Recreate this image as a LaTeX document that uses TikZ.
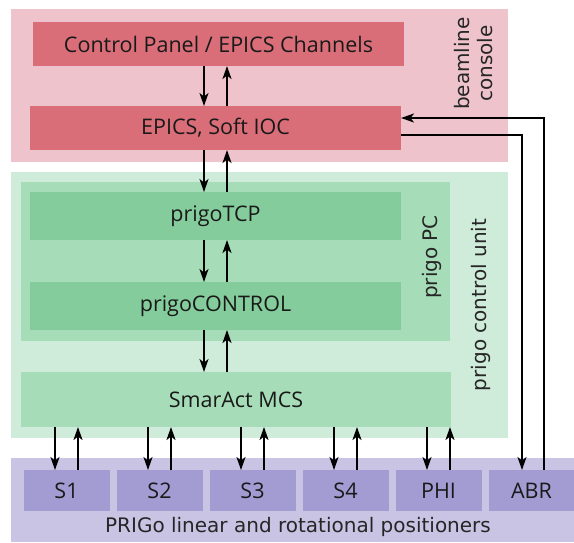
\documentclass[tikz,border=0pt]{standalone}
\usepackage{fontspec}
\setmainfont{Open Sans}
\newfontfamily\grpfont{DejaVu Sans}
\usetikzlibrary{arrows.meta}
\definecolor{consolebg}{HTML}{EEC3CB}
\definecolor{consolebox}{HTML}{D96E79}
\definecolor{unitbg}{HTML}{CFEBDA}
\definecolor{pcbg}{HTML}{A6DDB8}
\definecolor{pcbox}{HTML}{85CC9C}
\definecolor{posbg}{HTML}{C9C4E4}
\definecolor{posbox}{HTML}{A29CD3}
\begin{document}
\begin{tikzpicture}[x=1pt,y=-1pt,
    blk/.style={rectangle,inner sep=0pt,text=black!90,font=\fontsize{21.5}{24}\selectfont},
    lbl/.style={align=center,text=black!85,font=\grpfont\fontsize{20}{23}\selectfont},
    grp/.style={lbl,rotate=90},
    arr/.style={line width=1.9pt,-{Stealth[length=13pt,width=9pt,inset=3.5pt]}}]
      \tikzset{every node/.append style={outer sep=0pt}}
      \useasboundingbox (0,0) rectangle (574,542);
      \node[blk,fill=consolebg,minimum width=497pt,minimum height=153pt] (console) at (259.5,85.5) {};
      \node[blk,fill=consolebox,minimum width=371pt,minimum height=44pt] (panel) at (218.5,44) {Control Panel / EPICS Channels};
      \node[blk,fill=consolebox,minimum width=371pt,minimum height=44pt] (ioc) at (215.5,128) {EPICS, Soft IOC};
      \node[grp] (consolelbl) at (474,63.5) {beamline\\console};
      \node[blk,fill=unitbg,minimum width=497pt,minimum height=266pt] (unit) at (259.5,305) {};
      \node[blk,fill=pcbg,minimum width=429pt,minimum height=159pt] (pc) at (235.5,261.5) {};
      \node[blk,fill=pcbox,minimum width=371pt,minimum height=48pt] (tcp) at (215.5,216) {prigoTCP};
      \node[blk,fill=pcbox,minimum width=371pt,minimum height=48pt] (ctrl) at (215.5,306) {prigoCONTROL};
      \node[blk,fill=pcbg,minimum width=430pt,minimum height=55pt] (mcs) at (236,399.5) {SmarAct MCS};
      \node[grp] (pclbl) at (432,257) {prigo PC};
      \node[grp] (unitlbl) at (481,305) {prigo control unit};
      \node[blk,fill=posbg,minimum width=565pt,minimum height=84pt] (pos) at (293.5,500) {};
      \node[lbl] (poslbl) at (298,527) {PRIGo linear and rotational positioners};
      \foreach \name [count=\i] in {S1,S2,S3,S4,PHI,ABR}
        \node[blk,fill=posbox,minimum width=86pt,minimum height=41pt] (\name) at ({66.5+93*(\i-1)},490.5) {\name};
      \coordinate (dn) at (204,0);
      \coordinate (up) at (227,0);
      \foreach \a/\b in {panel/ioc,ioc/tcp,tcp/ctrl,ctrl/mcs} {
        \draw[arr] (\a.south -| dn) -- (\b.north -| dn);
        \draw[arr] (\b.north -| up) -- (\a.south -| up);
      }
      \foreach \name in {S1,S2,S3,S4,PHI} {
        \draw[arr] ([xshift=-11.5pt]\name.north |- mcs.south) -- ([xshift=-11.5pt]\name.north);
        \draw[arr] ([xshift=11.5pt]\name.north) -- ([xshift=11.5pt]\name.north |- mcs.south);
      }
      \draw[arr] ([yshift=-7pt]ioc.east) -| ([xshift=-9.5pt]ABR.north);
      \draw[arr] ([xshift=12.5pt]ABR.north) |- ([yshift=10pt]ioc.east);
\end{tikzpicture}
\end{document}
